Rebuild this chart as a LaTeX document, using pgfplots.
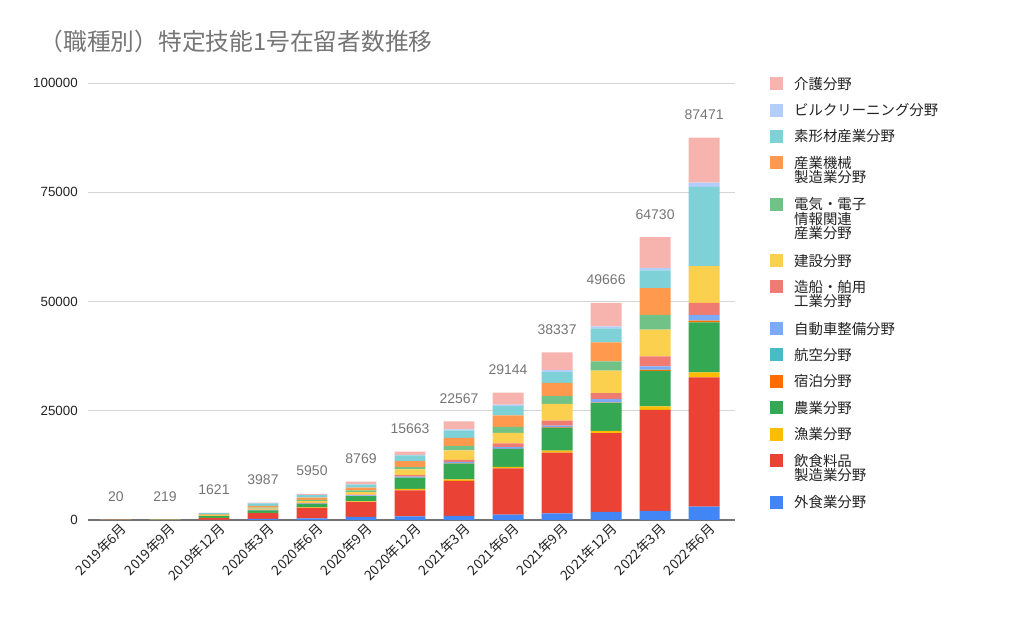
\documentclass[border=0pt]{standalone}
\usepackage{pgfplots}
\pgfplotsset{compat=1.18}
\usepackage{pgfplotstable}
\usepackage{fontspec}
\setmainfont{Liberation Sans}
\newfontfamily\cjk{Noto Sans CJK JP}
\definecolor{cgai}{HTML}{4285F4}
\definecolor{cinn}{HTML}{EA4335}
\definecolor{cgyo}{HTML}{FBBC04}
\definecolor{cnog}{HTML}{34A853}
\definecolor{cshu}{HTML}{FF6D01}
\definecolor{ckok}{HTML}{46BDC6}
\definecolor{cjid}{HTML}{7BAAF7}
\definecolor{czos}{HTML}{F07B72}
\definecolor{cken}{HTML}{FCD04F}
\definecolor{cden}{HTML}{71C287}
\definecolor{csan}{HTML}{FF994D}
\definecolor{csok}{HTML}{7ED1D7}
\definecolor{cbir}{HTML}{B3CEFB}
\definecolor{ckai}{HTML}{F7B4AE}
\definecolor{titlegray}{HTML}{757575}
\definecolor{txt}{HTML}{222222}
\newcommand\LA[1]{\vtop{\hbox{\rule[-2pt]{0pt}{11.6pt}#1}}}
\newcommand\LB[2]{\vtop{\baselineskip=10.9pt\lineskiplimit=-\maxdimen\hbox{\rule{0pt}{9.6pt}#1}\hbox{\rule[-2pt]{0pt}{2pt}#2}}}
\newcommand\LC[3]{\vtop{\baselineskip=10.9pt\lineskiplimit=-\maxdimen\hbox{\rule{0pt}{9.6pt}#1}\hbox{#2}\hbox{\rule[-2pt]{0pt}{2pt}#3}}}
\pgfplotsset{
  limg/.style={legend image code/.code={\fill[##1] (0pt,-0.8pt) rectangle (9.75pt,8.95pt); \path (0pt,-#1);}},
}
\pgfplotstableread{
x gai inn gyo nog shu kok jid zos ken den san sok bir kai total
0 0 3 0 0 0 0 0 0 5 0 5 5 0 2 20
1 0 14 0 10 0 0 0 0 25 20 90 60 0 0 219
2 20 400 40 400 0 0 40 60 150 100 150 230 11 20 1621
3 247 1300 60 600 0 0 60 90 250 250 400 550 30 150 3987
4 380 2400 100 800 20 0 80 120 400 300 500 600 50 200 5950
5 690 3400 150 1220 30 0 120 180 610 380 610 690 80 609 8769
6 800 6000 300 2520 40 10 250 350 1300 535 1375 1300 150 733 15663
7 920 8020 380 3590 60 10 300 460 2215 990 1830 1760 230 1802 22567
8 1220 10620 305 4050 80 15 385 840 2440 1375 2600 2140 305 2769 29144
9 1530 13900 460 5200 100 20 380 1150 3820 1760 3060 2440 460 4057 38337
10 1830 18030 535 6340 150 25 764 1375 5120 2140 4350 3210 460 5337 49666
11 2060 23150 764 8175 230 30 764 2290 6110 3360 6110 4050 610 7027 64730
12 3056 29570 1146 11460 380 40 1300 2750 8400 0 0 18100 990 10279 87471
}\data
\begin{document}
\begin{tikzpicture}
\useasboundingbox (0,0) rectangle (768pt,465pt);
\begin{axis}[
  at={(66pt,75pt)}, anchor=south west,
  scale only axis, width=485.25pt, height=327.75pt,
  ybar stacked, bar width=0.63,
  xmin=-0.57, xmax=12.63, ymin=0, ymax=100000,
  ytick={0,25000,50000,75000,100000},
  scaled y ticks=false,
  yticklabel={\pgfmathprintnumber[fixed,precision=0,1000 sep={},assume math mode=true]{\tick}},
  xtick={0,...,12},
  xticklabels={2019年6月,2019年9月,2019年12月,2020年3月,2020年6月,2020年9月,2020年12月,2021年3月,2021年6月,2021年9月,2021年12月,2022年3月,2022年6月},
  xticklabel style={font=\cjk\fontsize{10.2}{11}\selectfont, text=txt, xshift=-3pt, yshift=0pt, rotate=45, anchor=north east, inner sep=0pt, yshift=-5pt, xshift=3pt},
  yticklabel style={font=\fontsize{10}{12}\selectfont, text=txt, anchor=east, inner sep=0pt, xshift=-7.5pt},
  axis x line=bottom, axis y line=left,
  x axis line style={-, draw=black!55, line width=0.9pt},
  y axis line style={draw=none},
  major tick length=0pt,
  ymajorgrids, grid style={draw=black!17, line width=0.6pt},
  title={\cjk （職種別）特定技能1号在留者数推移},
  title style={at={(axis description cs:-0.075,1.076)}, anchor=west, font=\fontsize{17.8}{20}\selectfont, text=titlegray, inner sep=0pt},
  legend image code/.code={\fill[#1] (0pt,-0.8pt) rectangle (9.75pt,8.95pt);},
  reverse legend,
  legend style={draw=none, fill=none, at={(axis description cs:1.054,1.016)}, anchor=north west,
    row sep=8.7pt, column sep=8.25pt, inner sep=0pt,
    cells={anchor=base west}, nodes={inner sep=0pt},
    font=\cjk\fontsize{10.8}{10.9}\selectfont, text=txt},
]
\addplot[fill=cgai, draw=none] table[x=x,y=gai] {\data}; \addlegendentry{\LA{外食業分野}}
\addplot[fill=cinn, draw=none, limg=12.9pt] table[x=x,y=inn] {\data}; \addlegendentry{\LB{飲食料品}{製造業分野}}
\addplot[fill=cgyo, draw=none] table[x=x,y=gyo] {\data}; \addlegendentry{\LA{漁業分野}}
\addplot[fill=cnog, draw=none] table[x=x,y=nog] {\data}; \addlegendentry{\LA{農業分野}}
\addplot[fill=cshu, draw=none] table[x=x,y=shu] {\data}; \addlegendentry{\LA{宿泊分野}}
\addplot[fill=ckok, draw=none] table[x=x,y=kok] {\data}; \addlegendentry{\LA{航空分野}}
\addplot[fill=cjid, draw=none] table[x=x,y=jid] {\data}; \addlegendentry{\LA{自動車整備分野}}
\addplot[fill=czos, draw=none, limg=12.9pt] table[x=x,y=zos] {\data}; \addlegendentry{\LB{造船・舶用}{工業分野}}
\addplot[fill=cken, draw=none] table[x=x,y=ken] {\data}; \addlegendentry{\LA{建設分野}}
\addplot[fill=cden, draw=none, limg=23.8pt] table[x=x,y=den] {\data}; \addlegendentry{\LC{電気・電子}{情報関連}{産業分野}}
\addplot[fill=csan, draw=none, limg=12.9pt] table[x=x,y=san] {\data}; \addlegendentry{\LB{産業機械}{製造業分野}}
\addplot[fill=csok, draw=none] table[x=x,y=sok] {\data}; \addlegendentry{\LA{素形材産業分野}}
\addplot[fill=cbir, draw=none] table[x=x,y=bir] {\data}; \addlegendentry{\LA{ビルクリーニング分野}}
\addplot[fill=ckai, draw=none] table[x=x,y=kai] {\data}; \addlegendentry{\LA{介護分野}}
\end{axis}
\begin{axis}[
  at={(66pt,75pt)}, anchor=south west,
  scale only axis, width=485.25pt, height=327.75pt,
  xmin=-0.57, xmax=12.63, ymin=0, ymax=100000,
  hide axis, ybar, bar width=0.63,
  nodes near coords, point meta=explicit symbolic,
  every node near coord/.append style={anchor=base, yshift=13.5pt, inner sep=0pt, text=titlegray, font=\fontsize{10.5}{12}\selectfont},
]
\addplot[draw=none, fill=none] table[x=x, y=total, meta=total] {\data};
\end{axis}
\end{tikzpicture}
\end{document}
